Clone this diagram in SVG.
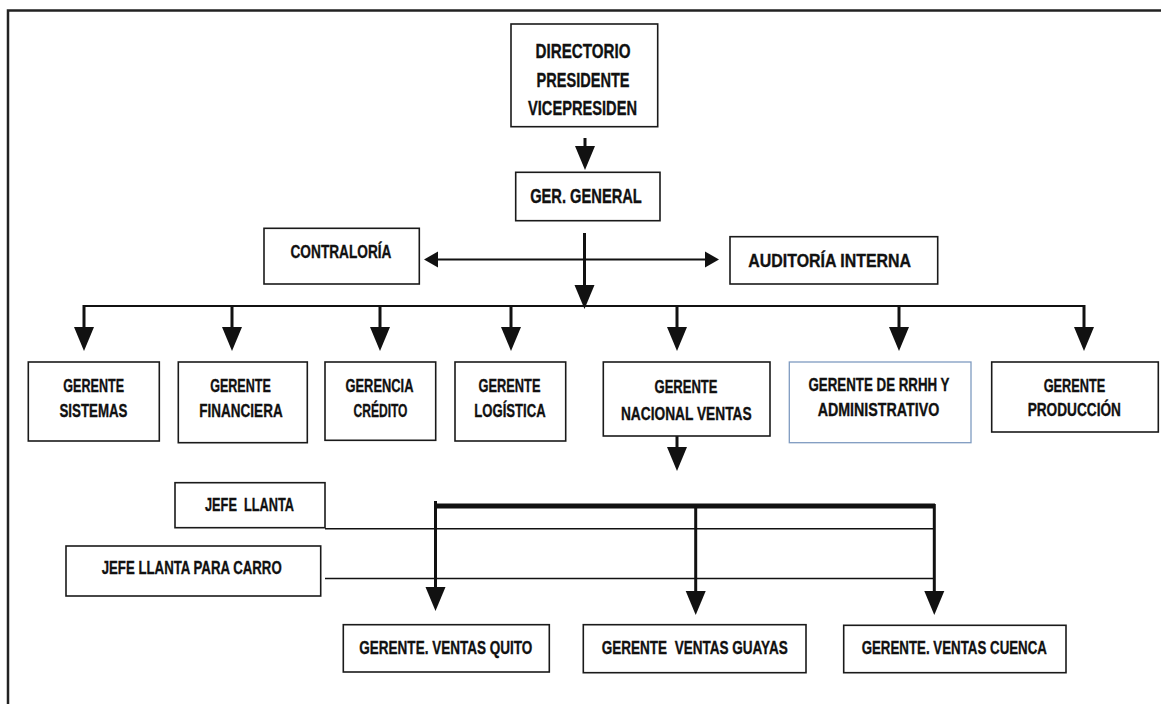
<svg xmlns="http://www.w3.org/2000/svg" width="1161" height="704" viewBox="0 0 1161 704">
<style>
.bx{fill:#fff;stroke:#1a1a1a;stroke-width:1.6}
.bxb{fill:#fff;stroke:#7f9bc0;stroke-width:1.3}
.t{font-family:"Liberation Sans",Arial,sans-serif;font-weight:bold;font-size:18.8px;fill:#111;stroke:#111;stroke-width:0.35;text-anchor:middle;white-space:pre}
.tb{font-size:21px}
.ln{fill:none;stroke:#111;stroke-width:2}
.st{fill:none;stroke:#111;stroke-width:3}
.thin{fill:none;stroke:#111;stroke-width:1.6}
.thick{fill:none;stroke:#111;stroke-width:5}
</style>
<defs>
<marker id="ah" markerUnits="userSpaceOnUse" markerWidth="26" markerHeight="22" refX="0" refY="10" orient="auto" overflow="visible">
<path d="M0,0 L24,10 L0,20 Z" fill="#111"/>
</marker>
<marker id="ahs" markerUnits="userSpaceOnUse" markerWidth="16" markerHeight="18" refX="0" refY="8" orient="auto-start-reverse" overflow="visible">
<path d="M0,0 L14,8 L0,16 Z" fill="#111"/>
</marker>
</defs>
<rect width="1161" height="704" fill="#fff"/>
<g id="frame">
<path d="M8,704 V10.5 H1161" fill="none" stroke="#222" stroke-width="2.5"/>
</g>
<g id="connectors">
<path class="st" d="M585,138 V146" marker-end="url(#ah)"/>
<path class="st" d="M584.5,233 V285" marker-end="url(#ah)"/>
<path class="ln" d="M438,259.5 H705" marker-start="url(#ahs)" marker-end="url(#ahs)"/>
<path class="ln" d="M84,306 H1084"/>
<path class="st" d="M84,305 V327" marker-end="url(#ah)"/>
<path class="st" d="M232,305 V327" marker-end="url(#ah)"/>
<path class="st" d="M380,305 V327" marker-end="url(#ah)"/>
<path class="st" d="M511,305 V327" marker-end="url(#ah)"/>
<path class="st" d="M677,305 V327" marker-end="url(#ah)"/>
<path class="st" d="M899,305 V327" marker-end="url(#ah)"/>
<path class="st" d="M1084,305 V327" marker-end="url(#ah)"/>
<path class="st" d="M677,434 V447" marker-end="url(#ah)"/>
<path class="thick" d="M434,506 H935"/>
<path class="thin" d="M325,528.7 H934"/>
<path class="thin" d="M325,578.5 H934"/>
<path class="st" d="M435.5,501 V587" marker-end="url(#ah)"/>
<path class="st" d="M695.7,506 V591" marker-end="url(#ah)"/>
<path class="st" d="M934.3,504 V591" marker-end="url(#ah)"/>
</g>
<g id="n-directorio">
<rect class="bx" x="511" y="24" width="146.7" height="102.7"/>
<text class="t tb" x="583" y="58" textLength="95" lengthAdjust="spacingAndGlyphs">DIRECTORIO</text>
<text class="t tb" x="583" y="86.7" textLength="93" lengthAdjust="spacingAndGlyphs">PRESIDENTE</text>
<text class="t tb" x="582.5" y="115" textLength="109" lengthAdjust="spacingAndGlyphs">VICEPRESIDEN</text>
</g>
<g id="n-gergeneral">
<rect class="bx" x="515.7" y="172.3" width="144.3" height="48.4"/>
<text class="t tb" x="586" y="203.3" textLength="111.7" lengthAdjust="spacingAndGlyphs">GER. GENERAL</text>
</g>
<g id="n-contraloria">
<rect class="bx" x="264" y="228.3" width="155.3" height="55.7"/>
<text class="t" x="341" y="258.3" textLength="101" lengthAdjust="spacingAndGlyphs">CONTRALORÍA</text>
</g>
<g id="n-auditoria">
<rect class="bx" x="730" y="236.7" width="207.7" height="47.3"/>
<text class="t" x="829.7" y="266.7" textLength="162.7" lengthAdjust="spacingAndGlyphs">AUDITORÍA INTERNA</text>
</g>
<g id="n-sistemas">
<rect class="bx" x="28.3" y="362" width="131" height="79"/>
<text class="t" x="93.7" y="392" textLength="60.7" lengthAdjust="spacingAndGlyphs">GERENTE</text>
<text class="t" x="93.5" y="416.5" textLength="68" lengthAdjust="spacingAndGlyphs">SISTEMAS</text>
</g>
<g id="n-financiera">
<rect class="bx" x="178.3" y="362" width="129" height="80.7"/>
<text class="t" x="240.5" y="392" textLength="60.7" lengthAdjust="spacingAndGlyphs">GERENTE</text>
<text class="t" x="241" y="416.5" textLength="83.3" lengthAdjust="spacingAndGlyphs">FINANCIERA</text>
</g>
<g id="n-credito">
<rect class="bx" x="325" y="362" width="110.7" height="78.3"/>
<text class="t" x="379.5" y="392" textLength="68" lengthAdjust="spacingAndGlyphs">GERENCIA</text>
<text class="t" x="380.5" y="416.5" textLength="54" lengthAdjust="spacingAndGlyphs">CRÉDITO</text>
</g>
<g id="n-logistica">
<rect class="bx" x="455" y="362" width="110.7" height="79"/>
<text class="t" x="509.5" y="392" textLength="62" lengthAdjust="spacingAndGlyphs">GERENTE</text>
<text class="t" x="510" y="416.5" textLength="71.3" lengthAdjust="spacingAndGlyphs">LOGÍSTICA</text>
</g>
<g id="n-nacional">
<rect class="bx" x="603.3" y="362" width="166.7" height="74"/>
<text class="t" x="686" y="393" textLength="63" lengthAdjust="spacingAndGlyphs">GERENTE</text>
<text class="t" x="686.3" y="419.5" textLength="130.7" lengthAdjust="spacingAndGlyphs">NACIONAL VENTAS</text>
</g>
<g id="n-rrhh">
<rect class="bxb" x="789.3" y="362" width="181.7" height="80.7"/>
<text class="t" x="879" y="390.5" textLength="141" lengthAdjust="spacingAndGlyphs">GERENTE DE RRHH Y</text>
<text class="t" x="878.5" y="415.5" textLength="121.7" lengthAdjust="spacingAndGlyphs">ADMINISTRATIVO</text>
</g>
<g id="n-produccion">
<rect class="bx" x="991.7" y="362" width="166.6" height="70"/>
<text class="t" x="1074.5" y="392" textLength="61.7" lengthAdjust="spacingAndGlyphs">GERENTE</text>
<text class="t" x="1074.3" y="415.5" textLength="93.3" lengthAdjust="spacingAndGlyphs">PRODUCCIÓN</text>
</g>
<g id="n-jefellanta">
<rect class="bx" x="175" y="482.7" width="150" height="45"/>
<text class="t" x="249.5" y="511.3" font-size="17.8" textLength="89" lengthAdjust="spacingAndGlyphs">JEFE  LLANTA</text>
</g>
<g id="n-jefecarro">
<rect class="bx" x="66" y="546" width="254.7" height="50"/>
<text class="t" x="191.7" y="573.7" font-size="17.8" textLength="180" lengthAdjust="spacingAndGlyphs">JEFE LLANTA PARA CARRO</text>
</g>
<g id="n-quito">
<rect class="bx" x="343.3" y="624.7" width="206" height="47.3"/>
<text class="t" x="445.8" y="653.7" textLength="173" lengthAdjust="spacingAndGlyphs">GERENTE. VENTAS QUITO</text>
</g>
<g id="n-guayas">
<rect class="bx" x="583.3" y="624.7" width="222.7" height="48"/>
<text class="t" x="694.7" y="653.7" textLength="186" lengthAdjust="spacingAndGlyphs">GERENTE  VENTAS GUAYAS</text>
</g>
<g id="n-cuenca">
<rect class="bx" x="843.7" y="625.3" width="222.3" height="47.4"/>
<text class="t" x="954.3" y="653.7" textLength="185.3" lengthAdjust="spacingAndGlyphs">GERENTE. VENTAS CUENCA</text>
</g>
</svg>
